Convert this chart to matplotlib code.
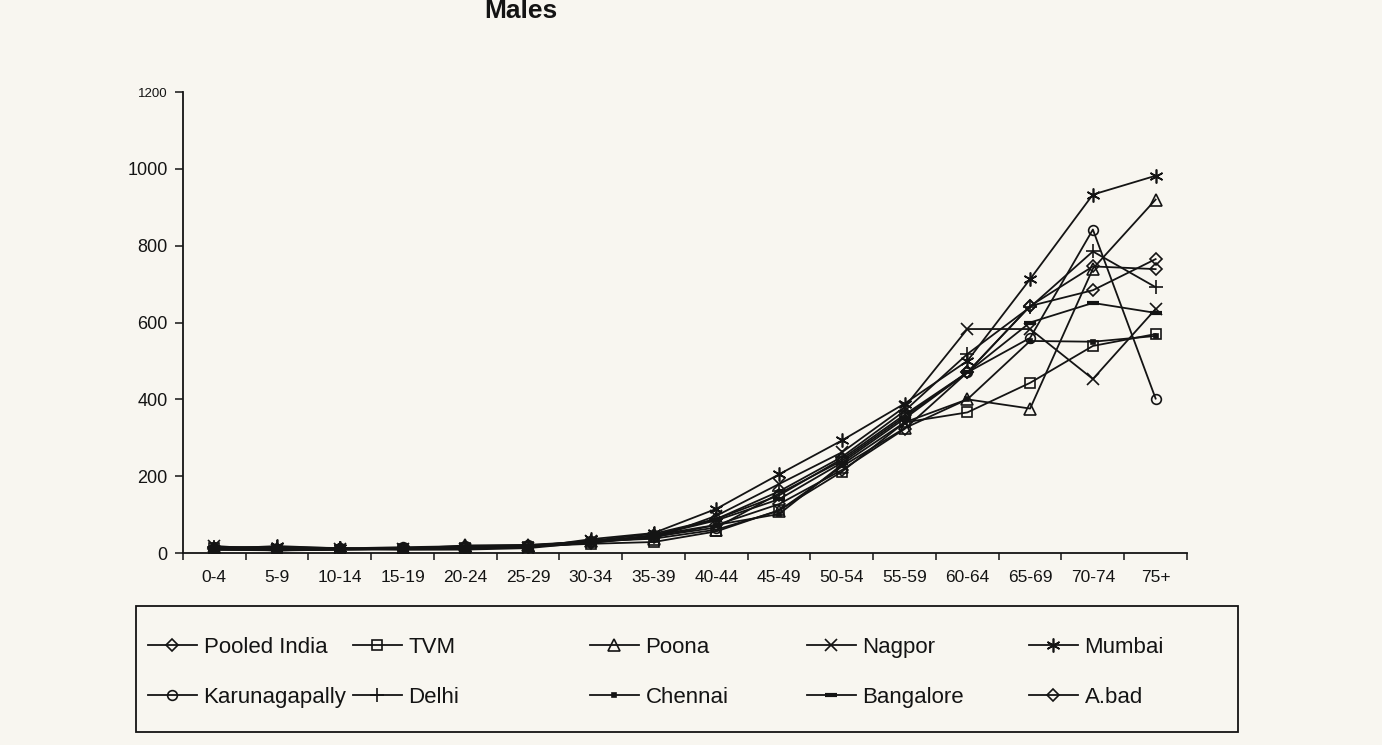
import numpy as np
import matplotlib
matplotlib.use('Agg')
from matplotlib import pyplot as plt
from matplotlib.patches import Rectangle


# age groups on the x axis
ages = ['0-4', '5-9', '10-14', '15-19', '20-24', '25-29', '30-34', '35-39',
        '40-44', '45-49', '50-54', '55-59', '60-64', '65-69', '70-74', '75+']

# rates (per 100,000)
pooled_india = [12.3, 10.9, 10.0, 11.1, 13.2, 18.1, 26.7, 41.0, 72.9, 127.4, 216.0, 322.8, 470.0, 643.0, 684.0, 765.0]
tvm = [14.0, 6.5, 8.8, 9.9, 14.3, 16.9, 24.0, 28.6, 56.3, 111.5, 211.6, 340.0, 366.0, 443.0, 539.0, 570.0]
poona = [8.4, 7.0, 9.6, 10.7, 19.7, 21.2, 30.0, 37.3, 60.8, 110.0, 225.0, 325.0, 400.0, 376.0, 740.0, 920.0]
nagpor = [18.4, 8.1, 11.0, 11.0, 11.6, 14.1, 32.0, 38.1, 97.0, 179.7, 262.0, 380.0, 583.0, 583.0, 453.0, 635.0]
mumbai = [10.7, 18.1, 12.0, 10.5, 13.5, 13.8, 36.0, 52.0, 115.0, 205.0, 293.0, 389.0, 500.0, 713.0, 933.0, 982.0]
karunagapally = [13.3, 11.7, 12.0, 15.1, 17.8, 19.8, 30.0, 42.7, 66.3, 154.9, 240.0, 355.0, 470.0, 560.0, 842.0, 402.0]
delhi = [15.1, 15.2, 13.0, 10.0, 10.1, 18.2, 32.0, 50.0, 88.5, 160.6, 250.0, 370.0, 518.0, 640.0, 785.0, 692.0]
chennai = [15.4, 15.0, 12.0, 8.4, 8.9, 12.7, 28.0, 46.0, 73.2, 101.5, 230.0, 340.0, 400.0, 552.0, 550.0, 565.0]
bangalore = [8.7, 7.7, 9.0, 10.3, 13.6, 16.5, 26.0, 45.0, 85.0, 140.0, 235.0, 350.0, 470.0, 600.0, 651.0, 625.0]
abad = [9.9, 7.0, 9.5, 10.3, 13.6, 16.5, 28.0, 46.0, 88.4, 150.1, 245.0, 360.0, 470.0, 643.0, 746.0, 739.0]

y_ticks = [0, 200, 400, 600, 800, 1000, 1200]

ink = '#141414'
paper = '#f8f6f0'
narrow = ['Liberation Sans Narrow', 'Liberation Sans', 'DejaVu Sans']

plt.rcParams['font.family'] = ['Liberation Sans', 'DejaVu Sans']

fig = plt.figure(figsize=(13.82, 7.45), dpi=100)
fig.patch.set_facecolor(paper)
ax = fig.add_axes([0.1324, 0.2577, 0.7265, 0.6188])
ax.set_facecolor('none')

x = np.arange(len(ages))
common = dict(color=ink, lw=1.3, mec=ink, mew=1.2)
styles = [
    ('Pooled India', pooled_india, dict(marker='D', ms=6, mfc='none')),
    ('TVM', tvm, dict(marker='s', ms=7, mfc='none')),
    ('Poona', poona, dict(marker='^', ms=8, mfc='none')),
    ('Nagpor', nagpor, dict(marker='x', ms=8)),
    ('Mumbai', mumbai, dict(marker=(6, 2, 0), ms=10)),
    ('Karunagapally', karunagapally, dict(marker='o', ms=7, mfc='none')),
    ('Delhi', delhi, dict(marker='+', ms=10)),
    ('Chennai', chennai, dict(marker='s', ms=3, mfc=ink)),
    ('Bangalore', bangalore, dict(marker='_', ms=8, mew=3)),
    ('A.bad', abad, dict(marker='D', ms=6, mfc='none')),
]
handles = {}
for name, vals, st in styles:
    kw = dict(common)
    kw.update(st)
    line, = ax.plot(x, vals, label=name, **kw)
    handles[name] = line

ax.set_xlim(-0.5, len(ages) - 0.5)
ax.set_ylim(0, 1200)
ax.set_yticks(y_ticks)
ax.set_yticklabels([str(v) for v in y_ticks])
ax.set_xticks(x)
ax.set_xticklabels(ages)
ax.set_xticks(np.arange(-0.5, len(ages)), minor=True)
ax.tick_params(axis='x', which='major', length=0, pad=12, labelsize=12.5, colors=ink)
ax.tick_params(axis='x', which='minor', length=5, width=1.1, direction='out', color=ink)
ax.tick_params(axis='y', length=6, width=1.1, direction='out', pad=5, labelsize=13, colors=ink)
ax.get_yticklabels()[-1].set_fontsize(9.5)

for side in ['top', 'right']:
    ax.spines[side].set_visible(False)
for side in ['left', 'bottom']:
    ax.spines[side].set_color(ink)
    ax.spines[side].set_linewidth(1.3)

fig.text(521 / 1382, 1 - 18 / 745, 'Males', ha='center', va='baseline',
         fontsize=19, fontweight='bold', color=ink)

# legend: a framed box with five columns of two entries
W, H = 1382.0, 745.0
fig.add_artist(Rectangle((136 / W, 1 - 732 / H), (1238 - 136) / W, (732 - 606) / H,
                         transform=fig.transFigure, fill=False, ec=ink, lw=1.3))
columns = [('Pooled India', 'Karunagapally', 148),
           ('TVM', 'Delhi', 353),
           ('Poona', 'Chennai', 590),
           ('Nagpor', 'Bangalore', 807),
           ('Mumbai', 'A.bad', 1029)]
for top, bottom, left in columns:
    leg = fig.legend([handles[top], handles[bottom]], [top, bottom],
                     loc='upper left', bbox_to_anchor=(left / W, 1 - 637 / H),
                     frameon=False, borderpad=0, borderaxespad=0,
                     handlelength=2.2, handletextpad=0.3, labelspacing=1.3,
                     prop=dict(family=narrow, size=16))
    for t in leg.get_texts():
        t.set_color(ink)

fig.savefig('out.png', dpi=100, facecolor=paper)
